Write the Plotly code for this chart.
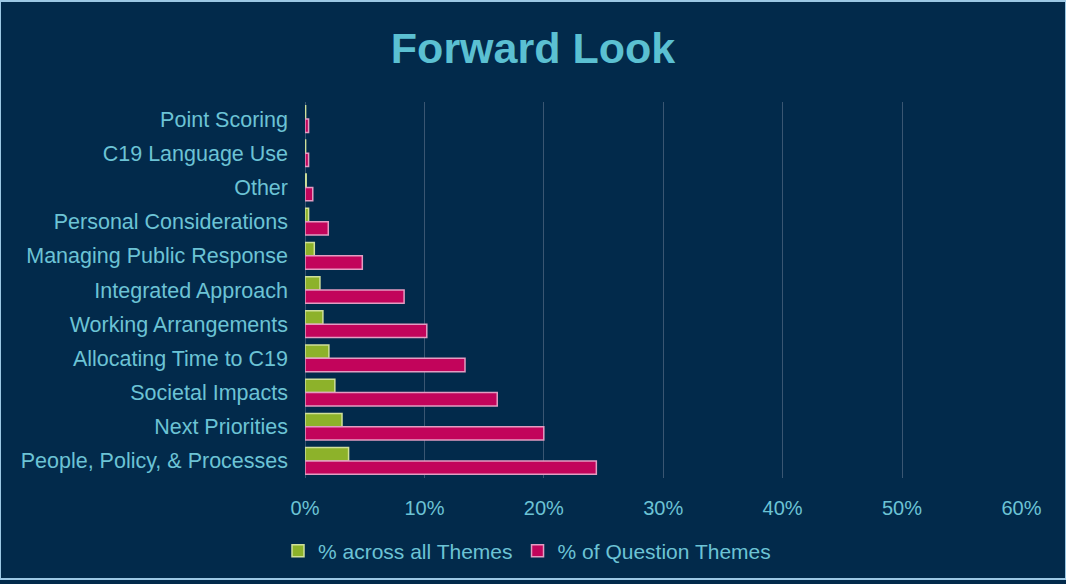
import plotly.graph_objects as go

categories = ["Point Scoring", "C19 Language Use", "Other", "Personal Considerations",
              "Managing Public Response", "Integrated Approach", "Working Arrangements",
              "Allocating Time to C19", "Societal Impacts", "Next Priorities",
              "People, Policy, & Processes"]
all_themes = [0.0005, 0.0005, 0.001, 0.003, 0.0078, 0.0125, 0.015, 0.020, 0.025, 0.031, 0.0365]
question_themes = [0.003, 0.003, 0.0065, 0.0195, 0.048, 0.083, 0.102, 0.134, 0.161, 0.200, 0.244]
tick_vals = [0, 0.1, 0.2, 0.3, 0.4, 0.5, 0.6]
tick_text = ["0%", "10%", "20%", "30%", "40%", "50%", "60%"]

bg = "#022a4b"
txt = "#6cc3d5"
font = "Liberation Sans, Arial, sans-serif"

fig = go.Figure()
fig.add_trace(go.Bar(
    y=categories, x=all_themes, orientation="h", name="% across all Themes",
    marker=dict(color="#8db22a", line=dict(color="#cfe09a", width=1.5)),
))
fig.add_trace(go.Bar(
    y=categories, x=question_themes, orientation="h", name="% of Question Themes",
    marker=dict(color="#c2045b", line=dict(color="#e39cc2", width=1.5)),
))

W, H = 1066, 584
ml, mr, mt, mb = 305, 44, 102, 102
pw, ph = W - ml - mr, H - mt - mb

fig.update_layout(
    width=W, height=H,
    paper_bgcolor=bg, plot_bgcolor=bg,
    margin=dict(l=ml, r=mr, t=mt, b=mb),
    barmode="group", bargap=0.22, bargroupgap=0,
    font=dict(family=font, color=txt, size=20),
    title=dict(text="<b>Forward Look</b>", x=0.5, xanchor="center", y=0.918, yanchor="middle",
               font=dict(family=font, size=43, color="#5bc0d2")),
    xaxis=dict(range=[0, 0.6005], tickvals=tick_vals, ticktext=tick_text,
               showgrid=True, gridcolor="#3a5672", gridwidth=1,
               zeroline=True, zerolinecolor="#3a5672", zerolinewidth=1,
               showline=False, ticks="", ticklabelstandoff=16,
               tickfont=dict(size=20, color=txt)),
    yaxis=dict(autorange="reversed", showgrid=False, ticks="", ticklabelstandoff=16,
               tickfont=dict(size=21.5, color=txt)),
    legend=dict(orientation="h", x=(278 - ml) / pw, xanchor="left", y=-0.14, yanchor="top",
                font=dict(size=21, color=txt), itemwidth=30, traceorder="normal"),
    shapes=[dict(type="rect", xref="paper", yref="paper", x0=-ml / pw, x1=1 + mr / pw,
                 y0=-mb / ph, y1=1 + mt / ph, line=dict(color="#9cc8e4", width=2),
                 fillcolor="rgba(0,0,0,0)", layer="above")],
)

fig.write_html("out.html")
